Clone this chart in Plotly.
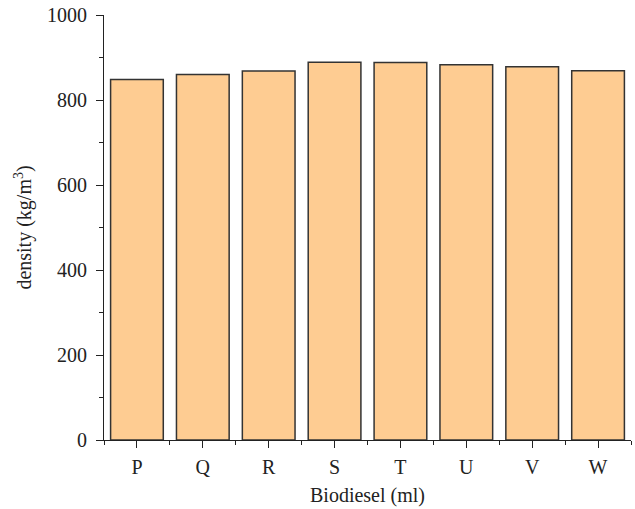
import plotly.graph_objects as go

categories = ["P", "Q", "R", "S", "T", "U", "V", "W"]
density = [848, 860, 868, 889, 888, 883, 878, 869]

xpos = list(range(len(categories)))

fig = go.Figure()
fig.add_trace(go.Bar(
    x=xpos, y=density, width=0.8,
    marker=dict(color="#FECC92", line=dict(color="#333333", width=1.5)),
))

font = dict(family="Liberation Serif, Times New Roman, serif", size=20, color="#222222")

fig.update_layout(
    width=635, height=509,
    margin=dict(l=104, r=4, t=15, b=69),
    plot_bgcolor="white", paper_bgcolor="white",
    font=font, showlegend=False, bargap=0.2,
)
fig.update_xaxes(
    range=[-0.5, 7.5], tickvals=xpos, ticktext=categories,
    showline=True, linecolor="#222222", linewidth=1.2,
    ticks="outside", ticklen=7, tickcolor="#222222", tickwidth=1.2,
    minor=dict(tickmode="linear", tick0=-0.5, dtick=1, ticks="outside", ticklen=4,
               tickcolor="#222222", tickwidth=1.2, showgrid=False),
    showgrid=False, zeroline=False, ticklabelstandoff=2,
    title=dict(text="Biodiesel (ml)", font=font, standoff=10),
)
fig.update_yaxes(
    range=[0, 1000], dtick=200, tick0=0,
    showline=True, linecolor="#222222", linewidth=1.2,
    ticks="outside", ticklen=7, tickcolor="#222222", tickwidth=1.2,
    minor=dict(dtick=100, ticks="outside", ticklen=4, tickcolor="#222222", tickwidth=1.2, showgrid=False),
    showgrid=False, zeroline=False, ticklabelstandoff=5,
    title=dict(text="density (kg/m<sup>3</sup>)", font=font, standoff=9),
)

fig.write_html("out.html")
